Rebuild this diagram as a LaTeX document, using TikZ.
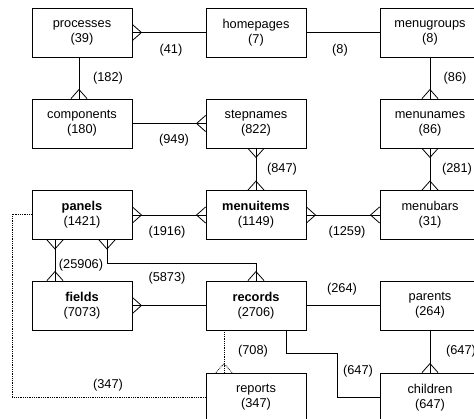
\documentclass[tikz,border=0pt]{standalone}
\usepackage{fontspec}
\setmainfont{Liberation Sans}
\begin{document}
\begin{tikzpicture}[x=1pt,y=-1pt,
  ent/.style={draw=black,line width=0.9pt,minimum width=100pt,minimum height=49pt,inner sep=0pt,align=center,font=\fontsize{12.8}{15}\selectfont},
  lbl/.style={font=\fontsize{12.8}{14}\selectfont,inner sep=0pt},
  conn/.style={draw=black,line width=0.8pt},
  dotc/.style={draw=black,line width=0.8pt,densely dotted},
  crowE/.pic={\draw[pic actions] (0,-8) -- (9,0) -- (0,8);},
  crowW/.pic={\draw[pic actions] (0,-8) -- (-9,0) -- (0,8);},
  crowS/.pic={\draw[pic actions] (-8,0) -- (0,9) -- (8,0);},
  crowN/.pic={\draw[pic actions] (-8,0) -- (0,-9) -- (8,0);}]
\useasboundingbox (0,0) rectangle (474,419);
\clip (0,0) rectangle (474,419);
% entities
\node[ent] (processes) at (82,32.5) {processes\\(39)};
\node[ent] (homepages) at (256,32.5) {homepages\\(7)};
\node[ent] (menugroups) at (430,32.5) {menugroups\\(8)};
\node[ent] (components) at (82,123.5) {components\\(180)};
\node[ent] (stepnames) at (256,123.5) {stepnames\\(822)};
\node[ent] (menunames) at (430,123.5) {menunames\\(86)};
\node[ent] (panels) at (82,215) {\textbf{panels}\\(1421)};
\node[ent] (menuitems) at (256,215) {\textbf{menuitems}\\(1149)};
\node[ent] (menubars) at (430,215) {menubars\\(31)};
\node[ent] (fields) at (82,305.5) {\textbf{fields}\\(7073)};
\node[ent] (records) at (256,305.5) {\textbf{records}\\(2706)};
\node[ent] (parents) at (430,305.5) {parents\\(264)};
\node[ent] (reports) at (256,397.5) {reports\\(347)};
\node[ent] (children) at (430,397.5) {children\\(647)};
% connectors
\draw[conn] (processes.east) -- (homepages.west);
\pic[conn] at (processes.east) {crowE};
\draw[conn] (homepages.east) -- (menugroups.west);
\draw[conn] ([xshift=-3pt]processes.south) -- ([xshift=-3pt]components.north);
\pic[conn] at ([xshift=-3pt]components.north) {crowN};
\draw[conn] (menugroups.south) -- (menunames.north);
\pic[conn] at (menunames.north) {crowN};
\draw[conn] (components.east) -- (stepnames.west);
\pic[conn] at (stepnames.west) {crowW};
\draw[conn] (stepnames.south) -- (menuitems.north);
\pic[conn] at (stepnames.south) {crowS};
\pic[conn] at (menuitems.north) {crowN};
\draw[conn] (menunames.south) -- (menubars.north);
\pic[conn] at (menunames.south) {crowS};
\pic[conn] at (menubars.north) {crowN};
\draw[conn] (panels.east) -- (menuitems.west);
\pic[conn] at (panels.east) {crowE};
\pic[conn] at (menuitems.west) {crowW};
\draw[conn] (menuitems.east) -- (menubars.west);
\pic[conn] at (menuitems.east) {crowE};
\pic[conn] at (menubars.west) {crowW};
\draw[conn] ([xshift=-27pt]panels.south) -- ([xshift=-27pt]fields.north);
\pic[conn] at ([xshift=-27pt]panels.south) {crowS};
\pic[conn] at ([xshift=-27pt]fields.north) {crowN};
\draw[conn] ([xshift=25pt]panels.south) -- ++(0,23) -| (records.north);
\pic[conn] at ([xshift=25pt]panels.south) {crowS};
\pic[conn] at (records.north) {crowN};
\draw[conn] (fields.east) -- (records.west);
\pic[conn] at (fields.east) {crowE};
\draw[conn] (records.east) -- (parents.west);
\draw[conn] (parents.south) -- (children.north);
\pic[conn] at (children.north) {crowN};
\coordinate (rc1) at (337,353);
\draw[conn] ([xshift=30pt]records.south) |- (rc1) |- (children.west);
\draw[dotc] ([xshift=-32pt]records.south) -- ([xshift=-32pt]reports.north);
\pic[dotc] at ([xshift=-32pt]reports.north) {crowN};
\coordinate (pr1) at (12,214);
\draw[dotc] ([yshift=1pt]panels.west) -- (pr1) |- (reports.west);
% labels
\node[lbl] at (171,50) {(41)};
\node[lbl] at (340,50) {(8)};
\node[lbl] at (108,78) {(182)};
\node[lbl] at (455,78) {(86)};
\node[lbl] at (174,140) {(949)};
\node[lbl] at (282,169) {(847)};
\node[lbl] at (457,169) {(281)};
\node[lbl] at (167,232) {(1916)};
\node[lbl] at (347,232) {(1259)};
\node[lbl] at (81,265) {(25906)};
\node[lbl] at (167,278) {(5873)};
\node[lbl] at (342,289) {(264)};
\node[lbl] at (253,351) {(708)};
\node[lbl] at (358,371) {(647)};
\node[lbl] at (461,351) {(647)};
\node[lbl] at (108,385) {(347)};
\end{tikzpicture}
\end{document}
